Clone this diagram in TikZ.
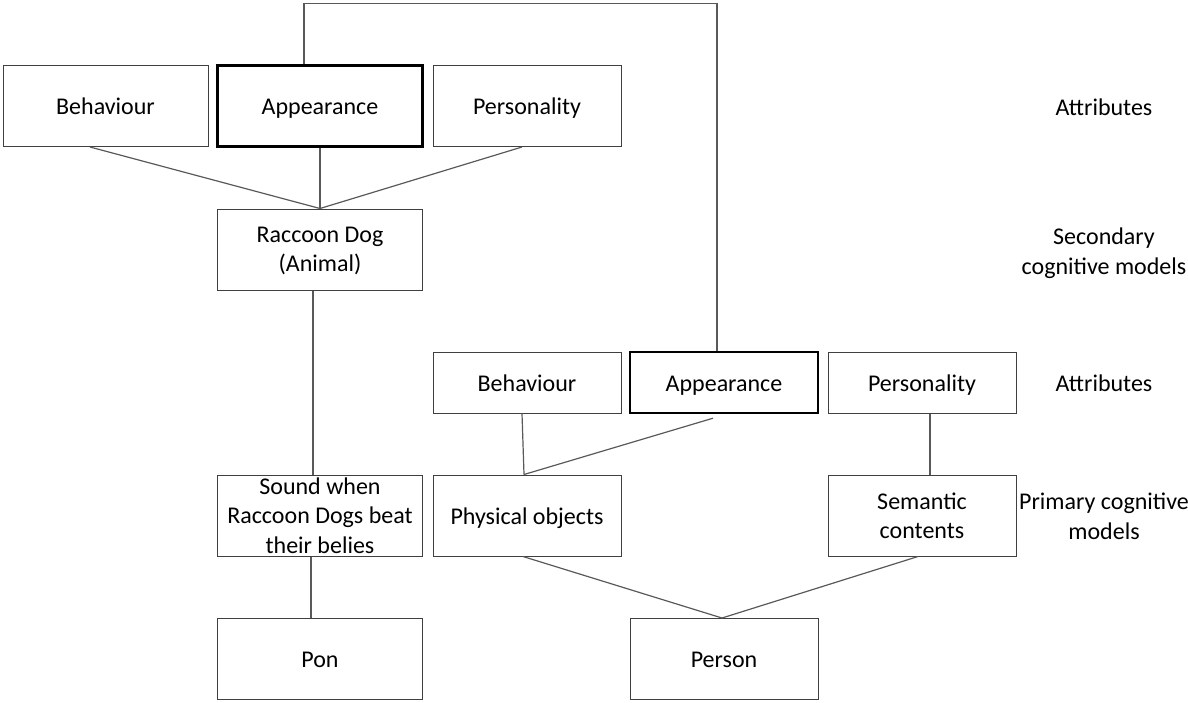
\documentclass[tikz,border=0pt]{standalone}
\usepackage{fontspec}
\setmainfont{Carlito}
\usetikzlibrary{positioning}
\tikzset{
  box/.style={draw=black!75, line width=0.5pt, align=center, inner sep=1pt,
    font=\fontsize{12}{14.7}\selectfont},
  keybox/.style={box, draw=black, line width=1.2pt},
  one/.style={text height=0.64em+2.5pt, text depth=0pt},
  multi/.style={text depth=0pt},
  wide/.style={minimum width=102.5pt},
  narrow/.style={minimum width=94pt},
  tall/.style={minimum height=40.5pt},
  short/.style={minimum height=30.5pt},
  link/.style={draw=black!65, line width=0.6pt},
  lvl/.style={align=center, font=\fontsize{12}{14.7}\selectfont}
}
\begin{document}
\begin{tikzpicture}[x=0.5pt,y=-0.5pt]
\useasboundingbox (0,0) rectangle (1188,702);

\node[box,one,wide,tall] (beh1) at (105.5,106) {Behaviour};
\node[keybox,one,wide,tall] (app1) at (320,106) {Appearance};
\node[box,one,narrow,tall] (per1) at (527,106) {Personality};
\node[box,multi,wide,tall] (dog) at (320,249.5) {Raccoon Dog\\(Animal)};

\node[box,one,narrow,short] (beh2) at (527,382.5) {Behaviour};
\node[keybox,one,narrow,short] (app2) at (724,382.5) {Appearance};
\node[box,one,narrow,short] (per2) at (922,382.5) {Personality};

\node[box,wide,tall] (sound) at (320,515.5) {Sound when\\Raccoon Dogs beat\\their belies};
\node[box,one,narrow,tall] (phys) at (527,515.5) {Physical objects};
\node[box,multi,narrow,tall] (sem) at (922,515.5) {Semantic\\contents};

\node[box,one,wide,tall] (pon) at (320,659) {Pon};
\node[box,one,narrow,tall] (person) at (724,659) {Person};

\node[lvl,one] (att1) at (1104,107) {Attributes};
\node[lvl,multi] (sec) at (1104,251) {Secondary\\cognitive models};
\node[lvl,one] (att2) at (1104,383) {Attributes};
\node[lvl,multi] (prim) at (1104,516) {Primary cognitive\\models};

\draw[link] ([xshift=-7.75pt]beh1.south) -- (dog.north);
\draw[link] (app1.south) -- (dog.north);
\draw[link] ([xshift=-2.5pt]per1.south) -- (dog.north);
\draw[link] ([xshift=-3.5pt]dog.south) -- ([xshift=-3.5pt]sound.north);
\draw[link] ([xshift=-4.5pt]sound.south) -- ([xshift=-4.5pt]pon.north);
\draw[link] ([xshift=-2.5pt]beh2.south) -- ([xshift=-1.5pt]phys.north);
\draw[link] ([xshift=-5.5pt,yshift=-2pt]app2.south) -- ([xshift=-1.5pt]phys.north);
\draw[link] ([xshift=4pt]per2.south) -- ([xshift=4pt]sem.north);
\draw[link] ([xshift=-2pt]phys.south) -- ([xshift=-1pt]person.north);
\draw[link] ([xshift=-2pt]sem.south) -- ([xshift=-1pt]person.north);
\draw[link] ([xshift=-8pt]app1.north) -- ++(0,-61) -| ([xshift=-3.5pt]app2.north);
\end{tikzpicture}
\end{document}
